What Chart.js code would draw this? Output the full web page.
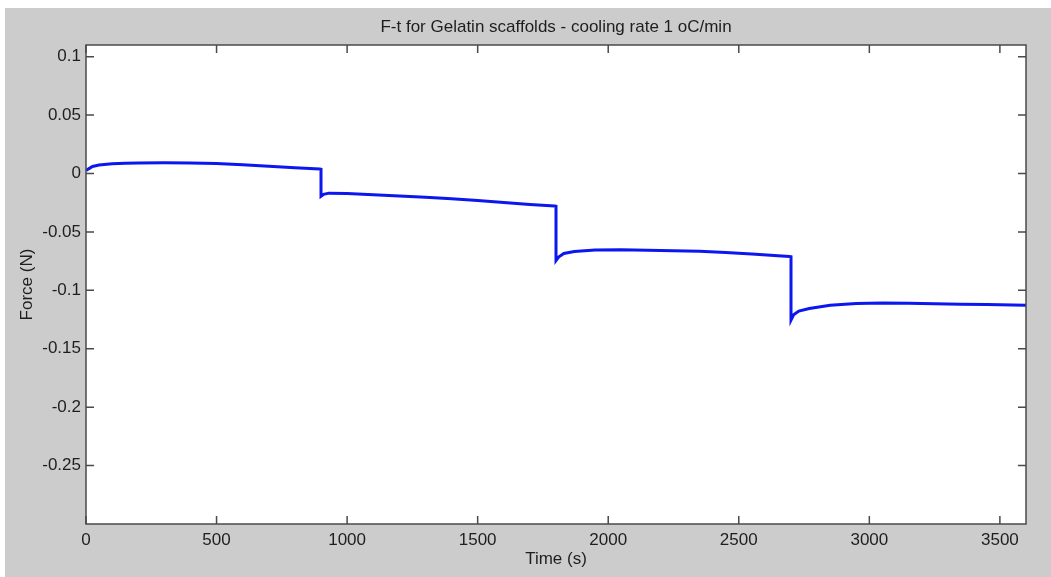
<!DOCTYPE html>
<html>
<head>
<meta charset="utf-8">
<title>F-t for Gelatin scaffolds</title>
<script src="https://cdn.jsdelivr.net/npm/chart.js@4.4.1/dist/chart.umd.min.js"></script>
<style>
  html, body { margin: 0; padding: 0; background: #fff; overflow: hidden; }
  #wrap { position: absolute; left: 0; top: 0; width: 1051px; height: 577px; }
</style>
</head>
<body>
<div id="wrap"><canvas id="ftChart"></canvas></div>
<script>
// time (s) and force (N); repeated times are the step drops
const timeS = [
  0, 10, 25, 50, 100, 150, 200, 300, 400, 500, 600, 700, 800, 895, 900,
  900, 910, 930, 1000, 1100, 1200, 1300, 1400, 1500, 1600, 1700, 1795, 1800,
  1800, 1810, 1830, 1870, 1950, 2050, 2150, 2250, 2350, 2450, 2550, 2650, 2695, 2700,
  2700, 2710, 2730, 2770, 2850, 2950, 3050, 3150, 3250, 3350, 3450, 3550, 3600
];
const forceN = [
  0.0025, 0.004, 0.006, 0.0072, 0.0083, 0.0088, 0.0091, 0.0093, 0.0091, 0.0085, 0.0076, 0.0063, 0.005, 0.0038, 0.0036,
  -0.0195, -0.0178, -0.0168, -0.0172, -0.0181, -0.0192, -0.0203, -0.0216, -0.0231, -0.0248, -0.0265, -0.0278, -0.028,
  -0.0745, -0.0715, -0.0685, -0.0668, -0.0655, -0.0652, -0.0657, -0.0661, -0.0666, -0.0676, -0.0689, -0.0703, -0.071, -0.0712,
  -0.1255, -0.121, -0.1178, -0.1155, -0.1128, -0.1112, -0.1108, -0.111, -0.1115, -0.1118, -0.1122, -0.1126, -0.1128
];
const xTicks = [0, 500, 1000, 1500, 2000, 2500, 3000, 3500];
const yTicks = [-0.25, -0.2, -0.15, -0.1, -0.05, 0, 0.05, 0.1];
const chartTitle = 'F-t for Gelatin scaffolds - cooling rate 1 oC/min';

const FONT = '"Liberation Sans", Arial, Helvetica, sans-serif';
const TXT = '#1e1e1e';

// matlab-ish figure: grey surround, white axes box, ticks pointing inward on all sides,
// title centred over the axes box (not the canvas)
const figure = {
  id: 'figure',
  beforeDraw(chart){
    const {ctx, width, height, chartArea: a} = chart;
    ctx.save();
    ctx.fillStyle = '#fff';
    ctx.fillRect(0, 0, width, height);
    ctx.fillStyle = '#cccccc';
    ctx.fillRect(5, 8, width - 5, height - 8);
    ctx.fillStyle = '#fff';
    ctx.fillRect(a.left, a.top, a.right - a.left, a.bottom - a.top);
    ctx.restore();
  },
  afterDraw(chart){
    const {ctx, chartArea: a, scales: {x, y}} = chart;
    const len = 8;
    ctx.save();
    ctx.strokeStyle = '#4a4a4a';
    ctx.lineWidth = 1.5;
    ctx.beginPath();
    xTicks.forEach(v => {
      const px = x.getPixelForValue(v);
      ctx.moveTo(px, a.bottom); ctx.lineTo(px, a.bottom - len);
      ctx.moveTo(px, a.top); ctx.lineTo(px, a.top + len);
    });
    yTicks.forEach(v => {
      const py = y.getPixelForValue(v);
      ctx.moveTo(a.left, py); ctx.lineTo(a.left + len, py);
      ctx.moveTo(a.right, py); ctx.lineTo(a.right - len, py);
    });
    ctx.stroke();
    ctx.strokeRect(a.left, a.top, a.right - a.left, a.bottom - a.top);

    ctx.fillStyle = TXT;
    ctx.font = '17px ' + FONT;
    ctx.textAlign = 'center';
    ctx.textBaseline = 'middle';
    ctx.fillText(chartTitle, (a.left + a.right) / 2, a.top - 18);
    ctx.restore();
  }
};

const points = timeS.map((t, i) => ({x: t, y: forceN[i]}));

new Chart(document.getElementById('ftChart'), {
  type: 'line',
  data: {
    datasets: [{
      data: points,
      borderColor: 'rgb(12,22,238)',
      borderWidth: 3,
      pointRadius: 0,
      tension: 0,
      fill: false
    }]
  },
  options: {
    responsive: true,
    maintainAspectRatio: false,
    animation: false,
    layout: { padding: { left: 0, top: 45, right: 25, bottom: 0 } },
    plugins: {
      legend: { display: false },
      tooltip: { enabled: false },
      title: { display: false }
    },
    scales: {
      x: {
        type: 'linear',
        min: 0,
        max: 3600,
        afterBuildTicks: s => { s.ticks = xTicks.map(v => ({value: v})); },
        afterFit: s => { s.height = 53; },
        grid: { display: false, drawTicks: false, tickLength: 0 },
        border: { display: false },
        ticks: {
          color: TXT,
          padding: 6,
          maxRotation: 0,
          font: { family: FONT, size: 17 },
          callback: v => String(v)
        },
        title: {
          display: true,
          text: 'Time (s)',
          color: TXT,
          font: { family: FONT, size: 17 },
          padding: { top: 0, bottom: 7 }
        }
      },
      y: {
        type: 'linear',
        min: -0.3,
        max: 0.11,
        afterBuildTicks: s => { s.ticks = yTicks.map(v => ({value: v})); },
        afterFit: s => { s.width = 86; },
        grid: { display: false, drawTicks: false, tickLength: 0 },
        border: { display: false },
        ticks: {
          color: TXT,
          padding: 5,
          font: { family: FONT, size: 17 },
          callback: v => String(+v.toFixed(2))
        },
        title: {
          display: true,
          text: 'Force (N)',
          color: TXT,
          font: { family: FONT, size: 17 },
          padding: { top: 17, bottom: 0 }
        }
      }
    }
  },
  plugins: [figure]
});
</script>
</body>
</html>
